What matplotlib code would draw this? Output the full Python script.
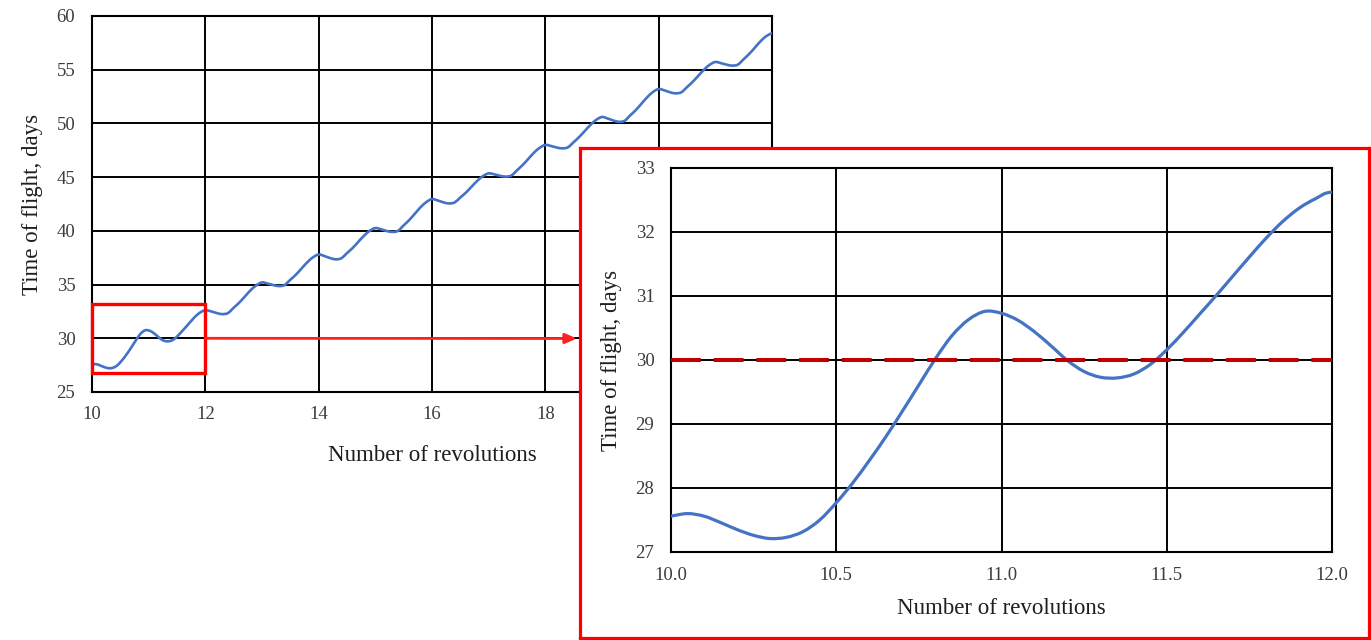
import numpy as np
import matplotlib
matplotlib.use("Agg")
import matplotlib.pyplot as plt
from matplotlib.path import Path
from matplotlib.patches import PathPatch, Rectangle

plt.rcParams['font.family'] = ['Liberation Serif', 'DejaVu Serif']

# Number of revolutions: every 0.05 rev from 10 to 11.95, then every 0.1 rev up to 22
revolutions = np.concatenate([np.round(np.arange(200, 240) / 20.0, 2),
                              np.round(np.arange(120, 221) / 10.0, 1)])

# Time of flight (days), 10.00 .. 11.95 in 0.05 steps
tof_days_fine = [
    27.56, 27.60, 27.56, 27.46, 27.35, 27.26, 27.21, 27.23, 27.32, 27.50,
    27.77, 28.08, 28.43, 28.80, 29.20, 29.61, 30.02, 30.38, 30.63, 30.76,
    30.73, 30.62, 30.44, 30.22, 29.99, 29.82, 29.73, 29.72, 29.78, 29.93,
    30.16, 30.43, 30.72, 31.01, 31.31, 31.61, 31.90, 32.16, 32.37, 32.52,
]

# Time of flight (days), 12.0 .. 22.0 in 0.1 steps
tof_days_coarse = [
    32.62, 32.51, 32.35, 32.25, 32.35, 32.84, 33.33, 33.90, 34.48, 34.93,
    35.20, 35.09, 34.95, 34.86, 34.96, 35.45, 35.93, 36.51, 37.08, 37.54,
    37.80, 37.66, 37.47, 37.35, 37.45, 37.93, 38.41, 38.98, 39.55, 40.00,
    40.26, 40.15, 39.99, 39.90, 40.00, 40.51, 41.02, 41.61, 42.21, 42.68,
    42.96, 42.83, 42.66, 42.55, 42.65, 43.11, 43.57, 44.12, 44.66, 45.10,
    45.35, 45.26, 45.13, 45.05, 45.15, 45.64, 46.13, 46.70, 47.28, 47.73,
    48.00, 47.90, 47.76, 47.68, 47.78, 48.26, 48.75, 49.32, 49.88, 50.34,
    50.60, 50.46, 50.27, 50.15, 50.25, 50.76, 51.26, 51.86, 52.45, 52.93,
    53.20, 53.08, 52.90, 52.80, 52.90, 53.38, 53.87, 54.44, 55.00, 55.46,
    55.72, 55.61, 55.47, 55.38, 55.48, 55.98, 56.48, 57.07, 57.66, 58.13,
    58.40,
]

tof_days = tof_days_fine + tof_days_coarse

main_xticks = [10, 12, 14, 16, 18, 20, 22]
main_yticks = [25, 30, 35, 40, 45, 50, 55, 60]
zoom_xticks = [10.0, 10.5, 11.0, 11.5, 12.0]
zoom_yticks = [27, 28, 29, 30, 31, 32, 33]
target_tof = 30.0
zoom_box = (10.0, 12.0, 26.75, 33.2)   # x0, x1, y0, y1 of highlighted region

LINE_BLUE = '#4472C4'
TICK_GRAY = '#3c3c3c'
LABEL_DARK = '#1e1e1e'

W, H = 1371, 640


def frac(left, top, right, bottom):
    return [left / W, 1 - bottom / H, (right - left) / W, (bottom - top) / H]


def smooth_path(x, y):
    """Catmull-Rom spline through the points, as cubic Bezier segments."""
    x = np.asarray(x, float)
    y = np.asarray(y, float)
    px = np.concatenate([[x[0]], x, [x[-1]]])
    py = np.concatenate([[y[0]], y, [y[-1]]])
    verts = [(x[0], y[0])]
    codes = [Path.MOVETO]
    for i in range(1, len(px) - 2):
        c1 = (px[i] + (px[i + 1] - px[i - 1]) / 6, py[i] + (py[i + 1] - py[i - 1]) / 6)
        c2 = (px[i + 1] - (px[i + 2] - px[i]) / 6, py[i + 1] - (py[i + 2] - py[i]) / 6)
        verts += [c1, c2, (px[i + 1], py[i + 1])]
        codes += [Path.CURVE4] * 3
    return Path(verts, codes)


def style_axes(ax, xpad, ypad):
    ax.set_axisbelow(True)
    ax.grid(True, color='black', linewidth=1.4)
    for s in ax.spines.values():
        s.set_color('black')
        s.set_linewidth(1.5)
    ax.tick_params(length=0, labelsize=13.5, labelcolor=TICK_GRAY)
    ax.tick_params(axis='x', pad=xpad)
    ax.tick_params(axis='y', pad=ypad)


fig = plt.figure(figsize=(13.71, 6.4), dpi=100)

# ---- full range chart ----
ax = fig.add_axes(frac(92, 16, 772, 392))
ax.set_zorder(1)
ax.add_patch(PathPatch(smooth_path(revolutions, tof_days), fill=False,
                       edgecolor=LINE_BLUE, linewidth=1.9, zorder=3))
ax.set_xlim(10, 22)
ax.set_ylim(25, 60)
ax.set_xticks(main_xticks)
ax.set_yticks(main_yticks)
style_axes(ax, xpad=10, ypad=12)
ax.set_xlabel('Number of revolutions', fontsize=16.5, color=LABEL_DARK, labelpad=16)
ax.set_ylabel('Time of flight, days', fontsize=16.5, color=LABEL_DARK, labelpad=10)

x0, x1, y0, y1 = zoom_box
ax.add_patch(Rectangle((x0, y0), x1 - x0, y1 - y0, fill=False, edgecolor='#FF0000',
                       linewidth=2.4, zorder=5, clip_on=False))
ax.annotate('', xy=(577 / W, 1 - 338.5 / H), xycoords='figure fraction',
            xytext=(x1, target_tof), textcoords='data', annotation_clip=False,
            arrowprops=dict(arrowstyle='-|>,head_length=0.7,head_width=0.3',
                            color='#FF2020', linewidth=2.0,
                            shrinkA=0, shrinkB=0), zorder=6)

# ---- framed close-up panel ----
frame = fig.add_axes(frac(580, 148, 1369, 638))
frame.set_zorder(2)
frame.set_facecolor('white')
frame.set_xticks([])
frame.set_yticks([])
for s in frame.spines.values():
    s.set_color('#FF0000')
    s.set_linewidth(2.3)

inset = fig.add_axes(frac(671, 168, 1332, 552))
inset.set_zorder(3)
inset.add_patch(PathPatch(smooth_path(revolutions, tof_days), fill=False,
                          edgecolor=LINE_BLUE, linewidth=2.3, zorder=3))
inset.axhline(target_tof, color='#C00000', linewidth=2.9,
              linestyle=(0, (7.4, 3.2)), zorder=4)
inset.set_xlim(10, 12)
inset.set_ylim(27, 33)
inset.set_xticks(zoom_xticks)
inset.set_xticklabels([f'{v:.1f}' for v in zoom_xticks])
inset.set_yticks(zoom_yticks)
style_axes(inset, xpad=11, ypad=12)
inset.set_xlabel('Number of revolutions', fontsize=16.5, color=LABEL_DARK, labelpad=10)
inset.set_ylabel('Time of flight, days', fontsize=16.5, color=LABEL_DARK, labelpad=10)

fig.savefig('out.png', dpi=100)
